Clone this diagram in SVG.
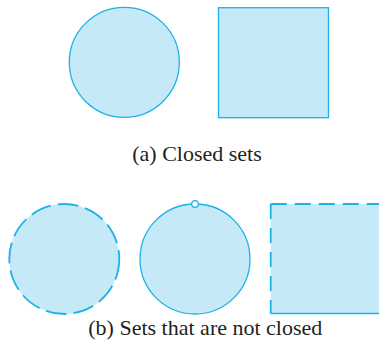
<svg xmlns="http://www.w3.org/2000/svg" width="379" height="359" viewBox="0 0 379 359">
<style>
.shape{fill:#c6e9f8;stroke:#1db1ea;stroke-width:1.3}
.dash-c{stroke-dasharray:21 7;stroke-width:1.8}
.cap{font-size:22px;fill:#231f20;text-anchor:middle}
</style>
<rect width="379" height="359" fill="#ffffff"/>
<g id="closed-circle"><circle class="shape" cx="124.3" cy="62.3" r="55"/></g>
<g id="closed-square"><rect class="shape" x="218.5" y="7.7" width="110" height="110"/></g>
<g id="caption-a"><text class="cap" font-family="Liberation Serif, DejaVu Serif, serif" x="197" y="161">(a) Closed sets</text></g>
<g id="open-circle"><circle class="shape dash-c" cx="64.3" cy="259" r="55"/></g>
<g id="circle-missing-point"><circle class="shape" cx="195" cy="259" r="55"/><circle cx="195" cy="204" r="3.3" fill="#ffffff" stroke="#1db1ea" stroke-width="1.3"/></g>
<g id="half-open-square">
<rect x="270.7" y="204" width="110" height="109.5" fill="#c6e9f8"/>
<path d="M270.7 204 H381" fill="none" stroke="#1db1ea" stroke-width="1.8" stroke-dasharray="16 8"/>
<path d="M270.7 204 V313.5" fill="none" stroke="#1db1ea" stroke-width="1.8" stroke-dasharray="15 9"/>
<path d="M270.7 313.5 H381" fill="none" stroke="#1db1ea" stroke-width="1.5"/>
</g>
<g id="caption-b"><text class="cap" font-family="Liberation Serif, DejaVu Serif, serif" x="205.3" y="335">(b) Sets that are not closed</text></g>
<g id="connectors"/>
</svg>
